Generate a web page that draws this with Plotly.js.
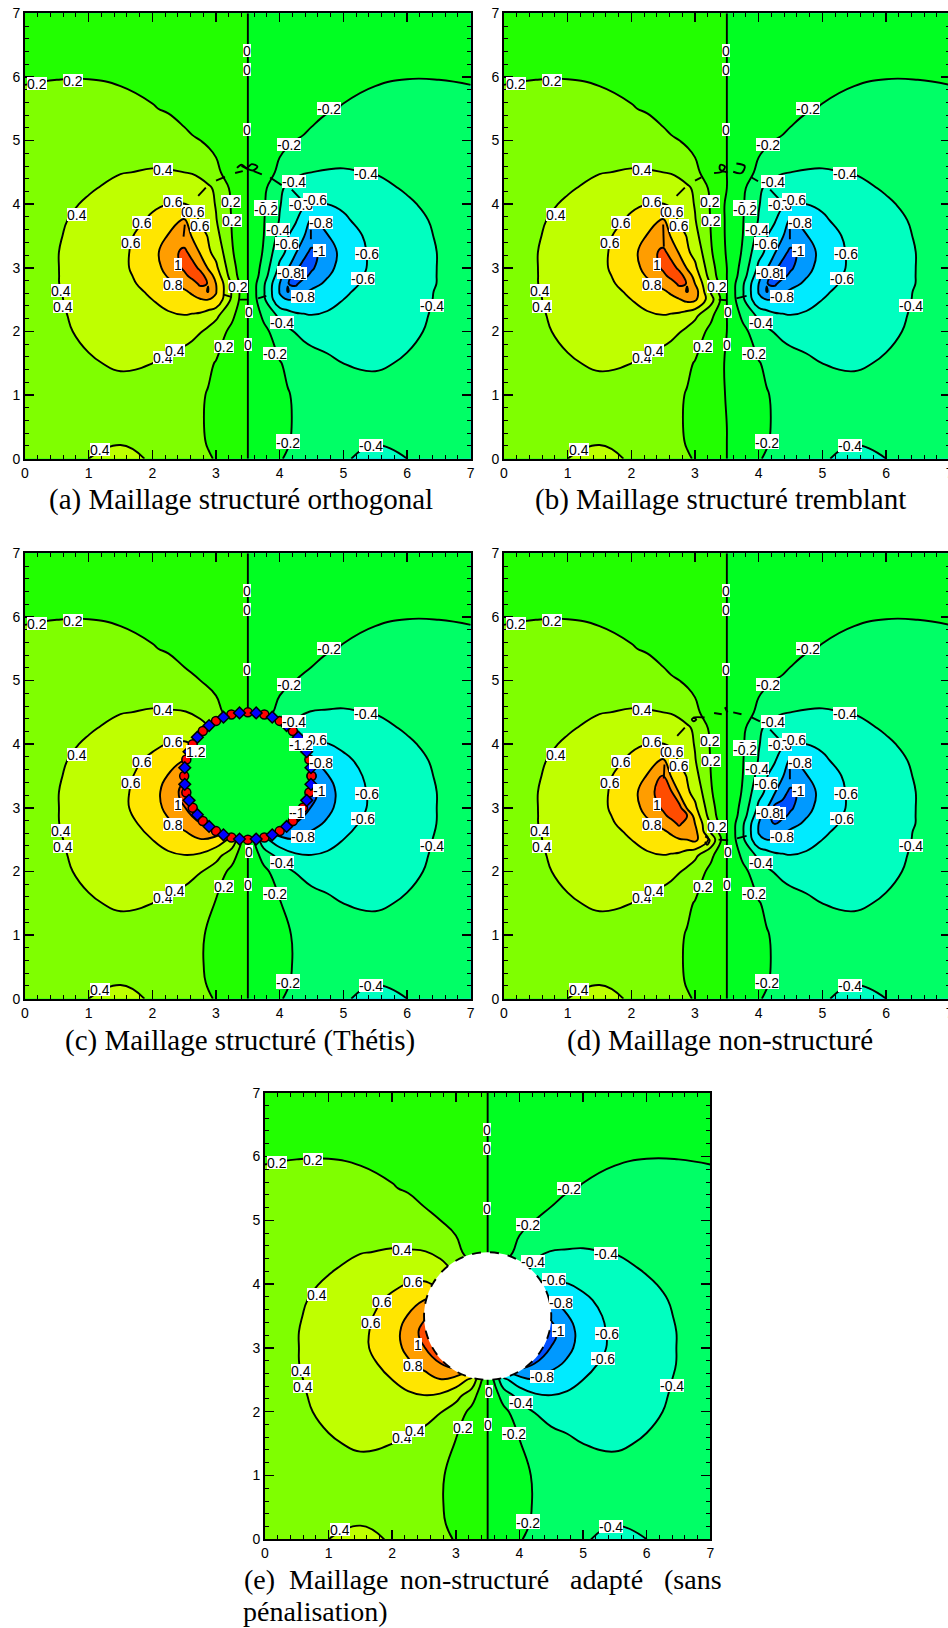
<!DOCTYPE html>
<html>
<head>
<meta charset="utf-8">
<script src="https://cdn.plot.ly/plotly-3.0.1.min.js"></script>
<style>html,body{margin:0;padding:0;background:#fff;overflow:hidden;width:948px;height:1628px}</style>
</head>
<body>
<div id="chart"></div>
<script>
// Grid nodes of the field around the penalised body, panels (a), (b), (d)
var meshX = [0,0.5,1,1.5,2,2.25,2.5,2.625,2.75,2.875,3,3.25,3.5,3.75,4,4.125,4.25,4.375,4.5,4.75,5,5.5,6,6.5,7];
var meshY = [0,0.25,0.5,1,1.5,2,2.25,2.5,2.625,2.75,2.875,3,3.25,3.5,3.75,4,4.25,4.5,5,5.5,6,6.5,7];
// Grid nodes of panels (c), (e)
var bodyX = [0,0.5,1,1.5,2,2.25,2.5,2.75,3,3.25,3.5,3.75,4,4.25,4.5,4.75,5,5.5,6,6.5,7];
var bodyY = [0,0.25,0.5,1,1.5,2,2.25,2.5,2.75,3,3.25,3.5,3.75,4,4.25,4.5,5,5.5,6,6.5,7];

// Field: one row per meshY value
var zMesh = [
[.27,.33,.40,.43,.39,.34,.29,.265,.24,.215,.19,.09,0,-.09,-.19,-.215,-.24,-.265,-.29,-.34,-.39,-.43,-.40,-.33,-.27],
[.26,.31,.37,.395,.35,.31,.27,.25,.225,.19,.155,.07,0,-.07,-.155,-.19,-.225,-.25,-.27,-.31,-.35,-.395,-.37,-.31,-.26],
[.25,.30,.345,.365,.335,.30,.26,.24,.215,.185,.15,.07,0,-.07,-.15,-.185,-.215,-.24,-.26,-.30,-.335,-.365,-.345,-.30,-.25],
[.23,.28,.32,.34,.33,.30,.265,.245,.22,.19,.15,.08,0,-.08,-.15,-.19,-.22,-.245,-.265,-.30,-.33,-.34,-.32,-.28,-.23],
[.25,.31,.385,.42,.40,.36,.32,.295,.27,.23,.19,.10,0,-.10,-.19,-.23,-.27,-.295,-.32,-.36,-.40,-.42,-.385,-.31,-.25],
[.27,.37,.43,.46,.48,.49,.47,.445,.41,.36,.30,.15,0,-.15,-.30,-.36,-.41,-.445,-.47,-.49,-.48,-.46,-.43,-.37,-.27],
[.28,.38,.44,.48,.55,.58,.595,.58,.56,.50,.44,.24,0,-.24,-.44,-.50,-.56,-.58,-.595,-.58,-.55,-.48,-.44,-.38,-.28],
[.29,.39,.44,.50,.60,.65,.72,.75,.785,.80,.77,.36,0,-.36,-.77,-.80,-.785,-.75,-.72,-.65,-.60,-.50,-.44,-.39,-.29],
[.295,.39,.45,.515,.63,.70,.77,.83,.92,1.01,.81,.38,0,-.38,-.81,-1.01,-.92,-.83,-.77,-.70,-.63,-.515,-.45,-.39,-.295],
[.30,.395,.46,.53,.67,.76,.87,.93,1.03,.995,.80,.37,0,-.37,-.80,-.995,-1.03,-.93,-.87,-.76,-.67,-.53,-.46,-.395,-.30],
[.305,.395,.465,.54,.70,.815,.96,1.05,1.07,.93,.72,.30,0,-.30,-.72,-.93,-1.07,-1.05,-.96,-.815,-.70,-.54,-.465,-.395,-.305],
[.31,.395,.47,.555,.72,.86,1.03,1.08,.96,.78,.64,.27,0,-.27,-.64,-.78,-.96,-1.08,-1.03,-.86,-.72,-.555,-.47,-.395,-.31],
[.31,.395,.47,.55,.73,.90,1.05,.92,.78,.63,.54,.22,0,-.22,-.54,-.63,-.78,-.92,-1.05,-.90,-.73,-.55,-.47,-.395,-.31],
[.31,.385,.47,.54,.69,.81,.86,.79,.68,.59,.46,.20,0,-.20,-.46,-.59,-.68,-.79,-.86,-.81,-.69,-.54,-.47,-.385,-.31],
[.30,.37,.46,.53,.62,.72,.82,.70,.58,.49,.41,.19,0,-.19,-.41,-.49,-.58,-.70,-.82,-.72,-.62,-.53,-.46,-.37,-.30],
[.29,.355,.42,.50,.58,.60,.605,.57,.53,.46,.39,.18,0,-.18,-.39,-.46,-.53,-.57,-.605,-.60,-.58,-.50,-.42,-.355,-.29],
[.29,.35,.385,.44,.50,.52,.51,.49,.47,.43,.37,.16,0,-.16,-.37,-.43,-.47,-.49,-.51,-.52,-.50,-.44,-.385,-.35,-.29],
[.28,.33,.385,.395,.41,.41,.40,.39,.36,.31,.24,.11,0,-.11,-.24,-.31,-.36,-.39,-.40,-.41,-.41,-.395,-.385,-.33,-.28],
[.26,.30,.33,.345,.33,.30,.23,.212,.201,.172,.155,.085,0,-.085,-.155,-.172,-.201,-.212,-.23,-.30,-.33,-.345,-.33,-.30,-.26],
[.23,.25,.265,.25,.21,.183,.16,.145,.13,.115,.095,.05,0,-.05,-.095,-.115,-.13,-.145,-.16,-.183,-.21,-.25,-.265,-.25,-.23],
[.19,.195,.195,.18,.15,.14,.12,.11,.10,.085,.07,.035,0,-.035,-.07,-.085,-.10,-.11,-.12,-.14,-.15,-.18,-.195,-.195,-.19],
[.16,.16,.16,.15,.13,.12,.10,.09,.08,.07,.06,.03,0,-.03,-.06,-.07,-.08,-.09,-.10,-.12,-.13,-.15,-.16,-.16,-.16],
[.12,.12,.12,.11,.10,.09,.08,.07,.06,.055,.05,.02,0,-.02,-.05,-.055,-.06,-.07,-.08,-.09,-.10,-.11,-.12,-.12,-.12]
];

// Field (c) and (e), nodes under the disc are hidden
var zBody = [
[.27,.33,.40,.43,.39,.34,.29,.24,.19,.09,0,-.09,-.19,-.24,-.29,-.34,-.39,-.43,-.40,-.33,-.27],
[.26,.31,.37,.395,.35,.31,.27,.225,.155,.07,0,-.07,-.155,-.225,-.27,-.31,-.35,-.395,-.37,-.31,-.26],
[.25,.30,.345,.365,.335,.30,.26,.215,.15,.07,0,-.07,-.15,-.215,-.26,-.30,-.335,-.365,-.345,-.30,-.25],
[.23,.28,.32,.34,.33,.30,.265,.22,.15,.08,0,-.08,-.15,-.22,-.265,-.30,-.33,-.34,-.32,-.28,-.23],
[.25,.31,.385,.42,.40,.36,.32,.27,.19,.10,0,-.10,-.19,-.27,-.32,-.36,-.40,-.42,-.385,-.31,-.25],
[.27,.37,.43,.46,.48,.49,.47,.41,.30,.15,0,-.15,-.30,-.41,-.47,-.49,-.48,-.46,-.43,-.37,-.27],
[.28,.38,.44,.48,.55,.58,.595,.57,.47,.28,0,-.28,-.47,-.57,-.595,-.58,-.55,-.48,-.44,-.38,-.28],
[.29,.39,.44,.50,.60,.65,.72,.79,.72,.55,0,-.55,-.72,-.79,-.72,-.65,-.60,-.50,-.44,-.39,-.29],
[.30,.395,.46,.53,.66,.77,.86,.99,1.10,.90,0,-.90,-1.10,-.99,-.86,-.77,-.66,-.53,-.46,-.395,-.30],
[.31,.395,.47,.555,.72,.85,.99,1.20,1.20,.80,0,-.80,-1.20,-1.20,-.99,-.85,-.72,-.555,-.47,-.395,-.31],
[.31,.395,.47,.55,.73,.87,1.07,1.25,1.20,.70,0,-.70,-1.20,-1.25,-1.07,-.87,-.73,-.55,-.47,-.395,-.31],
[.31,.385,.47,.54,.69,.81,.97,1.10,1.00,.50,0,-.50,-1.00,-1.10,-.97,-.81,-.69,-.54,-.47,-.385,-.31],
[.30,.37,.46,.53,.63,.72,.80,.85,.70,.40,0,-.40,-.70,-.85,-.80,-.72,-.63,-.53,-.46,-.37,-.30],
[.29,.355,.42,.50,.57,.605,.62,.58,.50,.30,0,-.30,-.50,-.58,-.62,-.605,-.57,-.50,-.42,-.355,-.29],
[.29,.35,.385,.44,.50,.52,.51,.46,.37,.22,0,-.22,-.37,-.46,-.51,-.52,-.50,-.44,-.385,-.35,-.29],
[.28,.33,.385,.395,.41,.41,.41,.36,.25,.13,0,-.13,-.25,-.36,-.41,-.41,-.41,-.395,-.385,-.33,-.28],
[.26,.30,.33,.345,.33,.30,.23,.201,.155,.085,0,-.085,-.155,-.201,-.23,-.30,-.33,-.345,-.33,-.30,-.26],
[.23,.25,.265,.25,.21,.183,.16,.13,.095,.05,0,-.05,-.095,-.13,-.16,-.183,-.21,-.25,-.265,-.25,-.23],
[.19,.195,.195,.18,.15,.14,.12,.10,.07,.035,0,-.035,-.07,-.10,-.12,-.14,-.15,-.18,-.195,-.195,-.19],
[.16,.16,.16,.15,.13,.12,.10,.08,.06,.03,0,-.03,-.06,-.08,-.10,-.12,-.13,-.15,-.16,-.16,-.16],
[.12,.12,.12,.11,.10,.09,.08,.06,.05,.02,0,-.02,-.05,-.06,-.08,-.09,-.10,-.11,-.12,-.12,-.12]
];

// Local differences of panels (b) and (d) from panel (a)
var patchBx = [3.5,3.5,3.5,3.5,3.5,3.5,3,3,2.875,3.25];
var patchBy = [3.25,3.5,3.75,4,1.5,1,2.625,2.5,2.5,2.5];
var patchBz = [-.02,-.03,-.03,-.03,-.02,-.01,.90,.84,.85,.48];
var patchDx = [2.5,2.5,2.625,2.625,2.75,2.75,2.875,2.875,2.875,3,3,3.25,4.125,4.125,4.25,4.25,4.25];
var patchDy = [3.5,3.25,3.25,3,3,2.875,2.875,2.75,2.625,2.625,2.5,2.5,2.625,2.75,2.625,2.75,3];
var patchDz = [1.02,1.12,1.02,1.12,1.08,1.12,1.01,.93,.88,.86,.85,.55,-.88,-.90,-.92,-1.01,-1.05];

// Contour pieces too small for the grid
var bitsAx = [3.33,3.40,3.48,3.56,3.65,3.58,3.48,3.40,null,3.30,3.42,null,3.59,3.72,null,3.0,3.14,null,2.72,2.84,null,3.85,4.03,null,4.19,4.32,null,2.51,2.49,null,4.49,4.49,null,3.37,3.51,null,3.66,3.79,null,3.12,3.25];
var bitsAy = [4.57,4.62,4.57,4.63,4.59,4.53,4.56,4.60,null,4.49,4.52,null,4.52,4.47,null,4.37,4.43,null,4.13,4.26,null,4.42,4.30,null,4.23,4.09,null,3.68,3.49,null,3.60,3.45,null,2.50,2.50,null,2.52,2.56,null,2.58,2.54];
var bitsBx = [3.30,3.42,3.47,3.40,3.39,3.51,null,3.60,3.73,3.78,3.65,null,3.0,3.1,null,2.71,2.84,null,3.89,3.99,null,4.18,4.31,null,2.50,2.51,null,4.49,4.49,null,3.37,3.5,null,3.65,3.81];
var bitsBy = [4.49,4.51,4.59,4.62,4.55,4.50,null,4.51,4.49,4.60,4.64,null,4.37,4.42,null,4.13,4.26,null,4.42,4.36,null,4.23,4.09,null,3.68,3.33,null,3.62,3.45,null,2.50,2.49,null,2.52,2.56];
var bitsDx = [3.15,2.98,3.02,2.98,2.95,2.98,null,3.30,3.42,null,3.47,3.51,null,3.60,3.73,null,3.89,4.02,null,2.72,2.84,null,4.18,4.31,null,2.52,2.51,null,4.49,4.49,null,3.37,3.52,null,3.66,3.81,null,3.16,3.23,3.19,3.16];
var bitsDy = [4.42,4.42,4.39,4.36,4.39,4.42,null,4.49,4.47,null,4.58,4.50,null,4.50,4.47,null,4.42,4.36,null,4.13,4.26,null,4.23,4.09,null,3.68,3.46,null,3.62,3.45,null,2.50,2.49,null,2.52,2.56,null,2.55,2.49,2.42,2.47];

// Body outline
var circleX = [4.5,4.466,4.366,4.207,4,3.759,3.5,3.241,3,2.793,2.634,2.534,2.5,2.534,2.634,2.793,3,3.241,3.5,3.759,4,4.207,4.366,4.466,4.5];
var circleY = [3.5,3.759,4,4.207,4.366,4.466,4.5,4.466,4.366,4.207,4,3.759,3.5,3.241,3,2.793,2.634,2.534,2.5,2.534,2.634,2.793,3,3.241,3.5];
var diamondX = [4.491,4.424,4.293,4.109,3.883,3.631,3.369,3.117,2.891,2.707,2.576,2.509,2.509,2.576,2.707,2.891,3.117,3.369,3.631,3.883,4.109,4.293,4.424,4.491];
var diamondY = [3.631,3.883,4.109,4.293,4.424,4.491,4.491,4.424,4.293,4.109,3.883,3.631,3.369,3.117,2.891,2.707,2.576,2.509,2.509,2.576,2.707,2.891,3.117,3.369];

// Contour labels
var outerText = ['0.2','0.2','0','0','0','-0.2','-0.2','0.4','-0.4','-0.4','0.4','0.6','0.6','0.6','-0.6','-0.8','-1','-0.6','-0.6','1','0.8','-0.8','0.4','0.4','-0.4','0','-0.4','0.4','0.4','0.2','0','-0.2','0.4','-0.2','-0.2','-0.4'];
var outerLabelX = [.19,.75,3.49,3.49,3.49,4.78,4.14,2.16,4.22,5.36,.82,2.32,1.84,1.67,4.55,4.65,4.62,5.37,5.31,2.41,2.32,4.36,.56,.60,6.39,3.52,4.03,2.16,2.36,3.12,3.5,3.92,1.18,4.13,4.13,5.44];
var outerLabelY = [5.90,5.95,6.42,6.12,5.18,5.50,4.94,4.54,4.36,4.48,3.84,4.04,3.72,3.40,4.08,3.71,3.27,3.22,2.83,3.05,2.73,2.55,2.65,2.39,2.41,2.31,2.14,1.59,1.70,1.76,1.80,1.66,.15,.29,.26,.20];
var meshText = ['0.6','0.6','0.6','0.2','0.2','-0.2','-0.2','-0.4','-0.6','-0.6','-1','-0.8','0.2'];
var meshLabelX = [2.60,2.67,2.75,3.23,3.25,3.79,3.79,3.97,4.33,4.12,4.32,4.14,3.35];
var meshLabelY = [3.89,3.89,3.67,4.05,3.75,3.96,3.91,3.61,4.0,3.38,2.91,2.93,2.71];
var bodyText = ['1.2','-1.2','-1','-1'];
var bodyLabelX = [2.68,4.34,4.25,4.29];
var bodyLabelY = [3.88,4.0,2.92,2.92];

// Level colours, lowest band first
var bandColours = ['#0000ff','#0050ff','#0099ff','#00ebff','#00ffc0','#00ff66','#00ff22','#22ff00','#7fff00','#bfff00','#ffe600','#ff9d00','#ff4c00','#ff0000'];
var tickValues = [0,1,2,3,4,5,6,7];

var W = 960, H = 1628;
var traces = [], annotations = [], layout = {
  width: W, height: H, autosize: false, showlegend: false,
  margin: {l:0, r:0, t:0, b:0, pad:0},
  paper_bgcolor: '#fff', plot_bgcolor: '#fff',
  font: {family: '"Liberation Sans", sans-serif', size: 14, color: '#000'}
};
var colorscale = bandColours.map(function (c, i) { return [i / (bandColours.length - 1), c]; });

function patched(base, px, py, pz) {
  var z = base.map(function (r) { return r.slice(); });
  px.forEach(function (x, k) { z[meshY.indexOf(py[k])][meshX.indexOf(x)] = pz[k]; });
  return z;
}
function labels(txt, xs, ys, xr, yr) {
  txt.forEach(function (t, i) {
    annotations.push({text: t, x: xs[i], y: ys[i], xref: xr, yref: yr, showarrow: false, height: 13, valign: 'middle',
      bgcolor: '#fff', borderpad: 0, borderwidth: 0, font: {size: 14, color: '#000'}, xanchor: 'center', yanchor: 'middle'});
  });
}
function panel(n, box, gx, gy, z, extra) {
  var ax = n === 1 ? '' : String(n), xr = 'x' + ax, yr = 'y' + ax;
  var axisCommon = {
    range: [0, 7], tickmode: 'array', tickvals: tickValues, ticks: 'inside', ticklen: 9, tickwidth: 1.5, tickcolor: '#000',
    showgrid: false, zeroline: false, showline: true, linecolor: '#000', linewidth: 2, mirror: 'ticks',
    tickfont: {size: 14, color: '#000'},
    minor: {dtick: 0.2, tick0: 0, ticks: 'inside', ticklen: 4, tickwidth: 1, tickcolor: '#000', showgrid: false}
  };
  layout['xaxis' + ax] = Object.assign({}, axisCommon, {domain: [box[0] / W, box[1] / W], anchor: yr});
  layout['yaxis' + ax] = Object.assign({}, axisCommon, {domain: [1 - box[3] / H, 1 - box[2] / H], anchor: xr});
  traces.push({type: 'contour', x: gx, y: gy, z: z, xaxis: xr, yaxis: yr, autocontour: false,
    contours: {start: -1.2, end: 1.2, size: 0.2, coloring: 'fill', showlines: true},
    colorscale: colorscale, showscale: false, line: {color: '#000', width: 1.9, smoothing: 1.3}, hoverinfo: 'skip'});
  if (extra.bitsX) traces.push({type: 'scatter', mode: 'lines', x: extra.bitsX, y: extra.bitsY, xaxis: xr, yaxis: yr,
    line: {color: '#000', width: 1.9, shape: 'spline'}, hoverinfo: 'skip'});
  if (extra.disc) traces.push({type: 'scatter', mode: 'lines', x: circleX, y: circleY, xaxis: xr, yaxis: yr, fill: 'toself',
    fillcolor: extra.disc, line: {color: extra.edge || extra.disc, width: 1.9, shape: 'spline', dash: extra.dash || 'solid'}, hoverinfo: 'skip'});
  if (extra.markers) {
    traces.push({type: 'scatter', mode: 'markers', x: circleX, y: circleY, xaxis: xr, yaxis: yr,
      marker: {symbol: 'circle', size: 9, color: '#ff0000', line: {color: '#000', width: 1.5}}, hoverinfo: 'skip'});
    traces.push({type: 'scatter', mode: 'markers', x: diamondX, y: diamondY, xaxis: xr, yaxis: yr,
      marker: {symbol: 'diamond', size: 9, color: '#0000ff', line: {color: '#000', width: 1.5}}, hoverinfo: 'skip'});
  }
  if (extra.mesh) labels(meshText, meshLabelX, meshLabelY, xr, yr);
  labels(outerText, outerLabelX, outerLabelY, xr, yr);
  if (extra.markers) labels(bodyText, bodyLabelX, bodyLabelY, xr, yr);
}
function caption(t, px, py, anchor, size) {
  annotations.push({text: t, x: px / W, y: 1 - py / H, xref: 'paper', yref: 'paper', showarrow: false, xanchor: anchor || 'center', yanchor: 'middle',
    font: {family: '"Liberation Serif", serif', size: size || 29, color: '#000'}});
}

panel(1, [25, 470.7, 13.3, 458.7], meshX, meshY, zMesh, {mesh: true, bitsX: bitsAx, bitsY: bitsAy});
panel(2, [504, 949.7, 13.3, 458.7], meshX, meshY, patched(zMesh, patchBx, patchBy, patchBz), {mesh: true, bitsX: bitsBx, bitsY: bitsBy});
panel(3, [25, 470.7, 553.3, 998.7], bodyX, bodyY, zBody, {disc: '#00ff33', edge: '#000', markers: true});
panel(4, [504, 949.7, 553.3, 998.7], meshX, meshY, patched(zMesh, patchDx, patchDy, patchDz), {mesh: true, bitsX: bitsDx, bitsY: bitsDy});
panel(5, [265, 710.3, 1092.7, 1539.3], bodyX, bodyY, zBody, {disc: '#fff', edge: '#000', dash: 'dash'});

caption('(a) Maillage structuré orthogonal', 241, 500);
caption('(b) Maillage structuré tremblant', 720, 500);
caption('(c) Maillage structuré (Thétis)', 240, 1040.5);
caption('(d) Maillage non-structuré', 720, 1040.5);
caption('(e)', 241.5, 1579, 'left', 28);
caption('Maillage', 286.5, 1579, 'left', 28);
caption('non-structuré', 398, 1579, 'left', 28);
caption('adapté', 568, 1579, 'left', 28);
caption('(sans', 661.5, 1579, 'left', 28);
caption('pénalisation)', 241, 1611, 'left', 28);

layout.annotations = annotations;
Plotly.newPlot('chart', traces, layout, {staticPlot: true, displayModeBar: false});
</script>
</body>
</html>
